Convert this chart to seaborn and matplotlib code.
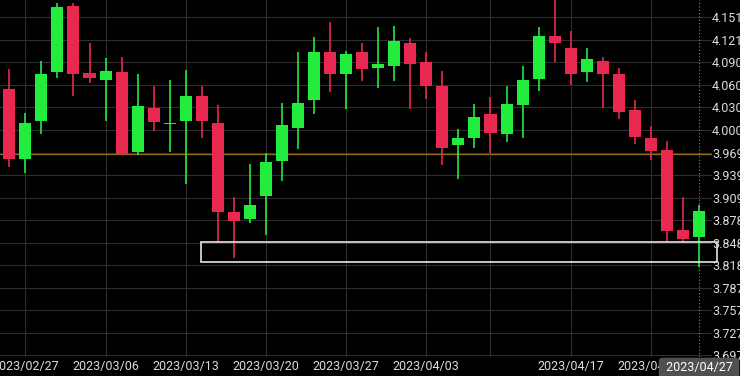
import matplotlib
matplotlib.use("Agg")
import matplotlib.pyplot as plt
import seaborn as sns
import pandas as pd
from matplotlib.transforms import blended_transform_factory
from matplotlib.patches import Rectangle

# ---------------- data ----------------
dates = ["2023/02/24",
         "2023/02/27", "2023/02/28", "2023/03/01", "2023/03/02", "2023/03/03",
         "2023/03/06", "2023/03/07", "2023/03/08", "2023/03/09", "2023/03/10",
         "2023/03/13", "2023/03/14", "2023/03/15", "2023/03/16", "2023/03/17",
         "2023/03/20", "2023/03/21", "2023/03/22", "2023/03/23", "2023/03/24",
         "2023/03/27", "2023/03/28", "2023/03/29", "2023/03/30", "2023/03/31",
         "2023/04/03", "2023/04/04", "2023/04/05", "2023/04/06",
         "2023/04/10", "2023/04/11", "2023/04/12", "2023/04/13", "2023/04/14",
         "2023/04/17", "2023/04/18", "2023/04/19", "2023/04/20", "2023/04/21",
         "2023/04/24", "2023/04/25", "2023/04/26", "2023/04/27"]

opens = [4.0547, 3.9614, 4.0125, 4.0776, 4.1663, 4.0762, 4.0676, 4.0784, 3.9704, 4.0296,
         4.0080, 4.0117, 4.0461, 4.0098, 3.8893, 3.8799, 3.9112, 3.9583, 4.0027, 4.0403,
         4.1053, 4.0749, 4.1045, 4.0830, 4.0856, 4.1174, 4.0914, 4.0591, 3.9794, 3.9896,
         4.0215, 3.9946, 4.0332, 4.0682, 4.1264, 4.1098, 4.0780, 4.0928, 4.0753, 4.0269,
         3.9896, 3.9731, 3.8655, 3.8561]
highs = [4.0816, 4.0232, 4.0928, 4.1704, 4.1704, 4.1174, 4.0964, 4.0977, 4.0753, 4.0587,
         4.0668, 4.0807, 4.0587, 4.0332, 3.9095, 3.9543, 3.9695, 4.0363, 4.1045, 4.1246,
         4.1448, 4.1066, 4.1166, 4.1389, 4.1402, 4.1233, 4.1053, 4.0789, 4.0017, 4.0353,
         4.0440, 4.0591, 4.0864, 4.1385, 4.1800, 4.1335, 4.1098, 4.0977, 4.0830, 4.0403,
         4.0054, 3.9852, 3.9095, 3.8995]
lows = [3.9506, 3.9417, 3.9950, 4.0695, 4.0461, 4.0628, 4.0125, 3.9665, 3.9660, 3.9986,
        3.9708, 3.9270, 3.9896, 3.8484, 3.8282, 3.8745, 3.8588, 3.9318, 3.9744, 4.0219,
        4.0515, 4.0278, 4.0655, 4.0569, 4.0659, 4.0286, 4.0421, 3.9525, 3.9345, 3.9758,
        3.9686, 3.9842, 3.9896, 4.0528, 4.0918, 4.0601, 4.0641, 4.0296, 4.0144, 3.9807,
        3.9596, 3.8498, 3.8476, 3.8161]
closes = [3.9606, 4.0098, 4.0757, 4.1658, 4.0749, 4.0703, 4.0789, 3.9673, 4.0327, 4.0103,
          4.0080, 4.0453, 4.0117, 3.8897, 3.8772, 3.8995, 3.9573, 4.0063, 4.0367, 4.1053,
          4.0749, 4.1018, 4.0824, 4.0883, 4.1193, 4.0887, 4.0596, 3.9762, 3.9888, 4.0171,
          3.9963, 4.0349, 4.0672, 4.1264, 4.1174, 4.0757, 4.0951, 4.0753, 4.0242, 3.9902,
          3.9721, 3.8646, 3.8530, 3.8915]

xtick_dates = ["2023/02/27", "2023/03/06", "2023/03/13", "2023/03/20", "2023/03/27",
               "2023/04/03", "2023/04/10", "2023/04/17", "2023/04/24"]
xtick_labels = ["2023/02/27", "2023/03/06", "2023/03/13", "2023/03/20", "2023/03/27",
                "2023/04/03", "", "2023/04/17", "2023/04/24"]
current_date = "2023/04/27"

ytick_values = [4.1515, 4.1212, 4.0909, 4.0606, 4.0303, 4.0000, 3.9697, 3.9394,
                3.9091, 3.8788, 3.8485, 3.8182, 3.7879, 3.7576, 3.7273, 3.6970]
ytick_labels = ["4.151", "4.121", "4.090", "4.060", "4.030", "4.000", "3.969", "3.939",
                "3.909", "3.878", "3.848", "3.818", "3.787", "3.757", "3.727", "3.697"]

ref_level = 3.9677
zone_low, zone_high = 3.8228, 3.8497
zone_start, zone_end = 11.93, 44.12

# ---------------- style ----------------
sns.set_theme(style="dark", rc={
    "axes.facecolor": "black",
    "figure.facecolor": "black",
    "grid.color": "#2e2e2e",
    "grid.linewidth": 0.8,
    "axes.grid": True,
    "text.color": "#dddddd",
    "xtick.color": "#dddddd",
    "ytick.color": "#dddddd",
})
plt.rcParams["font.family"] = ["Roboto", "DejaVu Sans"]

RED = "#e8284f"
GREEN = "#22ec3e"

df = pd.DataFrame({"date": dates, "open": opens, "high": highs,
                   "low": lows, "close": closes})
df["x"] = range(len(df))
df["up"] = df["close"] >= df["open"]
df["bottom"] = df[["open", "close"]].min(axis=1)
df["height"] = (df["close"] - df["open"]).abs().clip(lower=0.0012)
df["color"] = df["up"].map({True: GREEN, False: RED})

fig = plt.figure(figsize=(7.4, 3.76), dpi=100)
ax = fig.add_axes([0, 19 / 376, 712 / 740, 357 / 376])

# wicks and bodies
ax.vlines(df["x"], df["low"], df["high"], colors=df["color"], linewidth=1.2, zorder=3)
ax.bar(df["x"], df["height"], bottom=df["bottom"], width=0.75,
       color=df["color"], linewidth=0, zorder=4)

# reference line and zone
ax.axhline(ref_level, color="#8a6a18", linewidth=1.0, zorder=2)
ax.add_patch(Rectangle((zone_start, zone_low), zone_end - zone_start, zone_high - zone_low,
                       fill=False, edgecolor="#e6e6e6", linewidth=1.2, zorder=5,
                       clip_on=False))

# crosshair at current candle
last_x = dates.index(current_date)
ax.axvline(last_x, color="#8a8a8a", linewidth=0.8, linestyle=(0, (1, 2)), zorder=6)

ax.set_xlim(-0.58, 43.81)
ax.set_ylim(3.6947, 4.1748)

xt = [dates.index(d) for d in xtick_dates]
ax.set_xticks(xt)
ax.set_xticklabels(xtick_labels, fontsize=9, color="#dddddd")
ax.set_yticks(ytick_values)
ax.yaxis.tick_right()
ax.set_yticklabels(ytick_labels, fontsize=9, color="#dddddd")
ax.tick_params(axis="y", length=0, pad=0)
ax.tick_params(axis="x", length=0, pad=2.5)
for lab in ax.get_yticklabels():
    lab.set_clip_on(False)
for s in ax.spines.values():
    s.set_visible(False)
ax.set_xlabel("")
ax.set_ylabel("")

trans = blended_transform_factory(ax.transData, fig.transFigure)
ax.text(last_x, 8.0 / 376, " " + current_date + " ", transform=trans, ha="center",
        va="center", fontsize=9, color="#ffffff", zorder=10,
        bbox=dict(boxstyle="round,pad=0.3", facecolor="#505050", edgecolor="none"),
        clip_on=False)

fig.savefig("out.png", dpi=100, facecolor="black")
